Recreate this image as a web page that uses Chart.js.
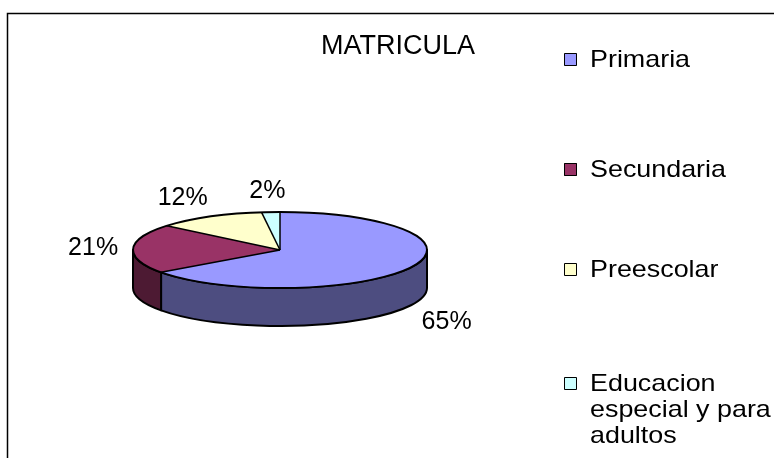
<!DOCTYPE html>
<html>
<head>
<meta charset="utf-8">
<title>MATRICULA</title>
<script src="https://cdn.jsdelivr.net/npm/chart.js@4/dist/chart.umd.min.js"></script>
<style>
  html, body { margin: 0; padding: 0; background: #fff; }
  canvas { display: block; }
</style>
</head>
<body>
<canvas id="pieChart" width="774" height="458"></canvas>
<script>
// Data
const chartTitle = 'MATRICULA';
const categories = ['Primaria', 'Secundaria', 'Preescolar', 'Educacion especial y para adultos'];
const legendLines = [['Primaria'], ['Secundaria'], ['Preescolar'], ['Educacion', 'especial y para', 'adultos']];
const shares = [65, 21, 12, 2];
const topColors = ['#9999ff', '#993366', '#ffffcc', '#ccffff'];
const sideColors = ['#4d4d80', '#4d1a33', '#808066', '#668080'];

const FONT = '"Liberation Sans", Arial, sans-serif';
const tilt = 0.2585;   // vertical squash of the pie
const depth = 38;      // thickness of the 3d pie

// visible front parts of a slice (angles with sin > 0)
function frontParts(start, end) {
    const parts = [];
    for (let k = -2; k <= 2; k++) {
        const a1 = Math.max(start, k * 2 * Math.PI);
        const a2 = Math.min(end, k * 2 * Math.PI + Math.PI);
        if (a2 > a1) parts.push([a1, a2]);
    }
    return parts;
}

const pie3d = {
    id: 'pie3d',
    beforeDraw(chart) {
        const ctx = chart.ctx;
        ctx.save();
        ctx.fillStyle = '#fff';
        ctx.fillRect(0, 0, chart.width, chart.height);
        // frame
        ctx.strokeStyle = '#000';
        ctx.lineWidth = 1.5;
        ctx.strokeRect(7.5, 13.5, 1000, 1000);
        // title
        ctx.fillStyle = '#000';
        ctx.font = '27px ' + FONT;
        ctx.textAlign = 'center';
        ctx.textBaseline = 'alphabetic';
        ctx.fillText(chartTitle, 398, 54);
        ctx.restore();
    },
    beforeDatasetsDraw(chart) {
        const ctx = chart.ctx;
        const arcs = chart.getDatasetMeta(0).data;
        const cx = arcs[0].x, cy = arcs[0].y, R = arcs[0].outerRadius;
        const ry = R * tilt;

        ctx.save();
        ctx.lineWidth = 2;
        ctx.lineJoin = 'round';
        ctx.strokeStyle = '#000';
        arcs.forEach((arc, i) => {
            frontParts(arc.startAngle, arc.endAngle).forEach(([a1, a2]) => {
                ctx.beginPath();
                ctx.ellipse(cx, cy, R, ry, 0, a1, a2, false);
                ctx.lineTo(cx + R * Math.cos(a2), cy + ry * Math.sin(a2) + depth);
                ctx.ellipse(cx, cy + depth, R, ry, 0, a2, a1, true);
                ctx.closePath();
                ctx.fillStyle = sideColors[i];
                ctx.fill();
                ctx.stroke();
            });
        });
        ctx.restore();

        // squash the top face drawn by Chart.js
        ctx.save();
        ctx.translate(cx, cy);
        ctx.scale(1, tilt);
        ctx.translate(-cx, -cy);
    },
    afterDatasetsDraw(chart) {
        const ctx = chart.ctx;
        ctx.restore();

        const arcs = chart.getDatasetMeta(0).data;
        const cx = arcs[0].x, cy = arcs[0].y, R = arcs[0].outerRadius;
        const ry = R * tilt;
        const values = chart.data.datasets[0].data;
        const total = values.reduce((a, b) => a + b, 0);

        ctx.save();
        ctx.lineWidth = 2;
        ctx.lineJoin = 'round';
        ctx.strokeStyle = '#000';
        ctx.beginPath();
        ctx.ellipse(cx, cy, R, ry, 0, 0, Math.PI * 2);
        ctx.stroke();
        ctx.lineWidth = 1.5;
        arcs.forEach(arc => {
            ctx.beginPath();
            ctx.moveTo(cx, cy);
            ctx.lineTo(cx + R * Math.cos(arc.startAngle), cy + ry * Math.sin(arc.startAngle));
            ctx.stroke();
        });

        // percentage labels
        ctx.fillStyle = '#000';
        ctx.font = '25px ' + FONT;
        ctx.textAlign = 'center';
        ctx.textBaseline = 'middle';
        arcs.forEach((arc, i) => {
            const mid = (arc.startAngle + arc.endAngle) / 2;
            const s = Math.sin(mid);
            const c = Math.cos(mid);
            const lx = cx + (R + 40 + (c < 0 && s < -0.3 ? 15 : 0)) * c;
            const ly = s > 0 ? cy + (ry + 37) * s + depth : cy + (ry + 21) * s;
            ctx.fillText(Math.round(values[i] / total * 100) + '%', lx, ly);
        });

        // legend
        const tops = [53, 163, 263, 377];
        legendLines.forEach((lines, i) => {
            ctx.fillStyle = topColors[i];
            ctx.fillRect(564, tops[i], 13, 13);
            ctx.lineWidth = 1;
            ctx.strokeRect(564.5, tops[i] + 0.5, 12, 12);
            ctx.fillStyle = '#000';
            ctx.font = '24px ' + FONT;
            ctx.textAlign = 'left';
            ctx.textBaseline = 'alphabetic';
            lines.forEach((line, j) => {
                ctx.save();
                ctx.translate(590, tops[i] + 14 + j * 26);
                ctx.scale(1.12, 1);
                ctx.fillText(line, 0, 0);
                ctx.restore();
            });
        });
        ctx.restore();
    }
};

new Chart(document.getElementById('pieChart'), {
    type: 'pie',
    data: {
        labels: categories,
        datasets: [{
            data: shares,
            backgroundColor: topColors,
            borderWidth: 0,
            hoverOffset: 0,
            clip: false
        }]
    },
    options: {
        responsive: false,
        animation: false,
        events: [],
        layout: {
            padding: { left: 133, right: 347, top: 103, bottom: 61 }
        },
        plugins: {
            legend: { display: false },
            tooltip: { enabled: false }
        }
    },
    plugins: [pie3d]
});
</script>
</body>
</html>
